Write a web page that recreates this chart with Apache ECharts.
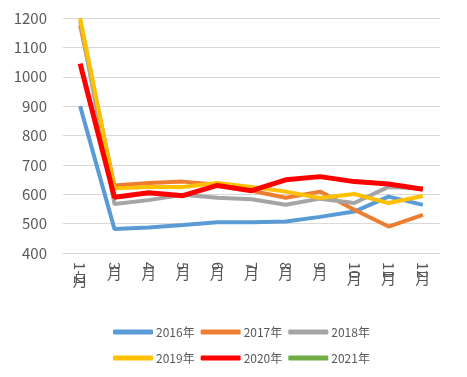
<!DOCTYPE html>
<head>
    <meta charset="utf-8">
    <title>Monthly lines</title>
    <style>
        html, body {
            width: 100%;
            height: 100%;
            margin: 0;
            background: #fff;
        }
        #main {
            width: 467px;
            height: 377px;
        }
    </style>
</head>
<body>
<div id="main"></div>
<script src="https://cdn.jsdelivr.net/npm/echarts@6/dist/echarts.min.js"></script>
<script type="text/javascript">
  var months = ['1-2月', '3月', '4月', '5月', '6月', '7月', '8月', '9月', '10月', '11月', '12月'];
  var yearNames = ['2016年', '2017年', '2018年', '2019年', '2020年', '2021年'];
  var colors = ['#5b9bd5', '#ed7d31', '#a5a5a5', '#ffc000', '#ff0000', '#70ad47'];
  var widths = [4, 4, 4, 4, 5, 4];

  var data2016 = [900, 482, 487, 495, 505, 505, 507, 523, 541, 592, 564];
  var data2017 = [1175, 630, 638, 643, 632, 612, 588, 609, 547, 490, 530];
  var data2018 = [1190, 567, 580, 598, 588, 583, 564, 585, 570, 625, 620];
  var data2019 = [1200, 620, 625, 625, 638, 625, 609, 587, 601, 570, 594];
  var data2020 = [1045, 590, 605, 595, 630, 612, 649, 660, 643, 635, 617];
  var data2021 = [];

  var allData = [data2016, data2017, data2018, data2019, data2020, data2021];

  var labelFamily = 'Noto Sans CJK SC';
  var labelSize = 15;
  var labelColor = '#595959';

  // vertical month labels: the number part lies rotated, the 月 stays upright below it
  var measureCtx = document.createElement('canvas').getContext('2d');
  measureCtx.font = labelSize + 'px "' + labelFamily + '"';
  function numPart(v) { return v.replace('月', ''); }
  function numLength(v) { return measureCtx.measureText(numPart(v)).width; }

  var monthRich = {};
  for (var k = 0; k < months.length; k++) {
    monthRich['m' + k] = {
      fontSize: labelSize, fontFamily: labelFamily, color: labelColor, lineHeight: 16,
      padding: [Math.round(numLength(months[k])) + 1, 0, 0, 0]
    };
  }

  var myChart = echarts.init(document.getElementById('main'));

  var series = [];
  for (var i = 0; i < yearNames.length; i++) {
    series.push({
      name: yearNames[i],
      type: 'line',
      data: allData[i],
      symbol: 'none',
      lineStyle: {width: widths[i], color: colors[i]},
      itemStyle: {color: colors[i]},
      z: i === 4 ? 5 : 2
    });
  }

  var legendBase = {
    itemWidth: 40,
    itemHeight: 5,
    itemGap: 6,
    icon: 'roundRect',
    textStyle: {fontSize: 12, color: labelColor, fontFamily: labelFamily, padding: [0, 0, 0, -2]}
  };

  var option = {
    animation: false,
    textStyle: {fontFamily: labelFamily},
    color: colors,
    grid: {left: 63, right: 27, top: 18, bottom: 124},
    legend: [
      Object.assign({}, legendBase, {data: yearNames.slice(0, 3), left: 108, top: 321}),
      Object.assign({}, legendBase, {data: yearNames.slice(3), left: 108, top: 347})
    ],
    xAxis: [
      {
        type: 'category',
        data: months,
        boundaryGap: true,
        axisLine: {lineStyle: {color: '#d9d9d9', width: 1}},
        axisTick: {show: false},
        axisLabel: {
          interval: 0,
          rotate: -90,
          fontSize: labelSize,
          fontFamily: labelFamily,
          color: labelColor,
          margin: 9,
          formatter: numPart
        }
      },
      {
        type: 'category',
        data: months,
        position: 'bottom',
        boundaryGap: true,
        axisLine: {show: false},
        axisTick: {show: false},
        axisLabel: {
          interval: 0,
          margin: 8,
          formatter: function (v) {
            return '{m' + months.indexOf(v) + '|月}';
          },
          rich: monthRich
        }
      }
    ],
    yAxis: {
      type: 'value',
      min: 400,
      max: 1200,
      interval: 100,
      axisLine: {show: false},
      axisTick: {show: false},
      axisLabel: {
        fontSize: 15,
        color: labelColor,
        margin: 16,
        formatter: function (v) { return String(v); }
      },
      splitLine: {lineStyle: {color: '#d9d9d9'}}
    },
    series: series
  };
  myChart.setOption(option);
</script>
</body>
